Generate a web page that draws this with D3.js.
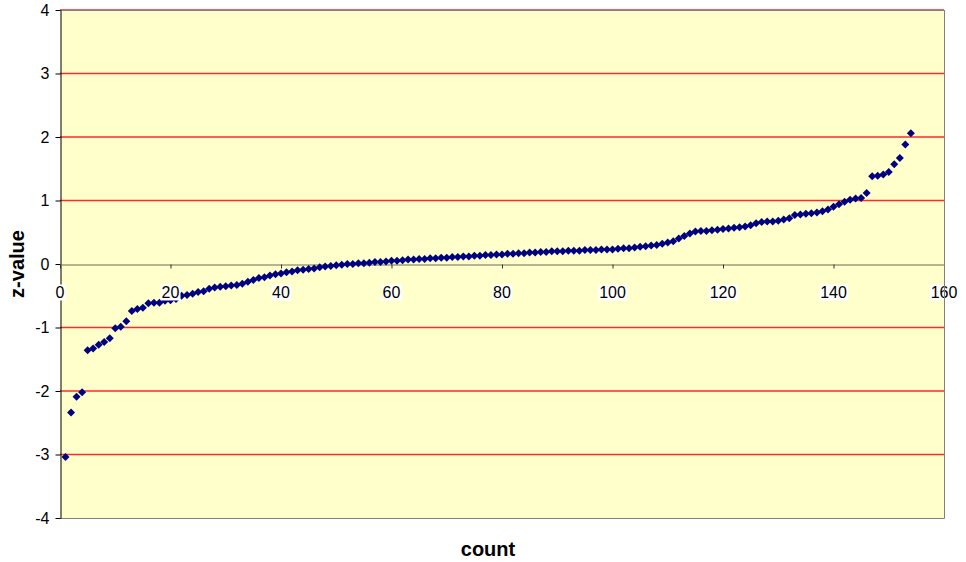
<!DOCTYPE html>
<html>
<head>
<meta charset="utf-8">
<script src="https://cdn.jsdelivr.net/npm/d3@7"></script>
<style>
  body{margin:0;background:#fff;}
  svg{display:block;font-family:Arial,"Liberation Sans",sans-serif;}
</style>
</head>
<body>
<svg id="chart" width="966" height="562"></svg>
<script>
// z-values, sorted, one per count (1..154)
const zValues=[
  -3.04,-2.34,-2.09,-2.02,-1.36,-1.33,-1.27,-1.23,-1.17,-1.01,
  -0.99,-0.90,-0.74,-0.71,-0.69,-0.62,-0.61,-0.61,-0.58,-0.57,
  -0.55,-0.50,-0.49,-0.47,-0.44,-0.43,-0.39,-0.37,-0.36,-0.35,
  -0.34,-0.33,-0.31,-0.28,-0.25,-0.22,-0.21,-0.18,-0.16,-0.15,
  -0.13,-0.12,-0.10,-0.09,-0.08,-0.07,-0.05,-0.04,-0.03,-0.02,
  -0.01,0.00,0.00,0.01,0.01,0.02,0.03,0.03,0.04,0.05,
  0.05,0.06,0.07,0.07,0.08,0.08,0.09,0.09,0.10,0.10,
  0.11,0.11,0.12,0.12,0.13,0.13,0.14,0.14,0.15,0.15,
  0.16,0.16,0.17,0.17,0.18,0.18,0.19,0.19,0.20,0.20,
  0.20,0.21,0.21,0.21,0.22,0.22,0.22,0.23,0.23,0.23,
  0.24,0.25,0.25,0.26,0.27,0.28,0.29,0.30,0.32,0.34,
  0.36,0.40,0.44,0.48,0.51,0.52,0.52,0.53,0.54,0.55,
  0.56,0.57,0.58,0.59,0.61,0.64,0.66,0.67,0.67,0.68,
  0.70,0.72,0.77,0.78,0.79,0.80,0.81,0.83,0.86,0.90,
  0.94,0.98,1.01,1.03,1.04,1.12,1.38,1.39,1.41,1.45,
  1.57,1.67,1.88,2.06
];
const xTicks=[0,20,40,60,80,100,120,140,160];
const yTicks=[-4,-3,-2,-1,0,1,2,3,4];
const xLabel="count", yLabel="z-value";

const svg=d3.select("#chart");
const pLeft=60, pRight=944, pTop=10, pBottom=518;

const x=d3.scaleLinear().domain([0,160]).range([pLeft,pRight]);
const y=d3.scaleLinear().domain([-4,4]).range([pBottom,pTop]);

// plot area
svg.append("rect")
  .attr("x",pLeft).attr("y",pTop)
  .attr("width",pRight-pLeft).attr("height",pBottom-pTop)
  .attr("fill","#FFFFCC");

// gridlines
svg.append("g")
  .selectAll("line")
  .data(yTicks.filter(d=>d!==0&&d!==-4))
  .join("line")
  .attr("x1",pLeft).attr("x2",pRight)
  .attr("y1",d=>y(d)).attr("y2",d=>y(d))
  .attr("stroke","#FF2a2a").attr("stroke-width",1.5);

// border (top/right/bottom)
svg.append("path")
  .attr("d",`M${pLeft},${pTop+0.5}H${pRight+0.5}V${pBottom+0.5}H${pLeft}`)
  .attr("fill","none").attr("stroke","#808080");

// y axis
const yAxis=svg.append("g")
  .attr("transform",`translate(${pLeft+0.5},0)`)
  .call(d3.axisLeft(y).tickValues(yTicks).tickSize(5).tickPadding(6).tickSizeOuter(0).tickFormat(d=>String(d)));
yAxis.select(".domain").attr("stroke","#000");
yAxis.selectAll(".tick line").attr("stroke","#000");
yAxis.selectAll("text").attr("font-size",16).attr("fill","#000")
  .attr("font-family","Arial,'Liberation Sans',sans-serif");

// x axis at z=0
const x0=Math.round(y(0))+0.5;
const xAxis=svg.append("g")
  .attr("transform",`translate(0,${x0})`)
  .call(d3.axisBottom(x).tickValues(xTicks).tickSize(4).tickSizeOuter(0).tickFormat(""));
xAxis.select(".domain").attr("stroke","#6b6b50");
xAxis.selectAll(".tick line").attr("stroke","#333");

// markers
const diamond="M0,-4L4,0L0,4L-4,0Z";
svg.append("g")
  .selectAll("path")
  .data(zValues)
  .join("path")
  .attr("d",diamond)
  .attr("transform",(d,i)=>`translate(${x(i+1)},${y(d)})`)
  .attr("fill","#000080");

// x tick labels with white boxes, drawn over markers
const xl=svg.append("g").selectAll("g").data(xTicks).join("g")
  .attr("transform",d=>`translate(${x(d)},${x0+33})`);
xl.append("text")
  .attr("text-anchor","middle")
  .attr("font-size",16).attr("fill","#000")
  .text(d=>d)
  .each(function(){
    const b=this.getBBox();
    d3.select(this.parentNode).insert("rect","text")
      .attr("x",b.x-1).attr("y",b.y+1)
      .attr("width",b.width+2).attr("height",b.height-1)
      .attr("fill","#fff");
  });

// right border over last label
svg.append("line")
  .attr("x1",pRight+0.5).attr("x2",pRight+0.5)
  .attr("y1",pTop).attr("y2",pBottom)
  .attr("stroke","#808080");

// axis titles
svg.append("text")
  .attr("x",488).attr("y",556)
  .attr("text-anchor","middle")
  .attr("font-size",20).attr("font-weight","bold")
  .text(xLabel);
svg.append("text")
  .attr("transform",`translate(24,${y(0)}) rotate(-90)`)
  .attr("text-anchor","middle")
  .attr("font-size",20).attr("font-weight","bold")
  .text(yLabel);
</script>
</body>
</html>
